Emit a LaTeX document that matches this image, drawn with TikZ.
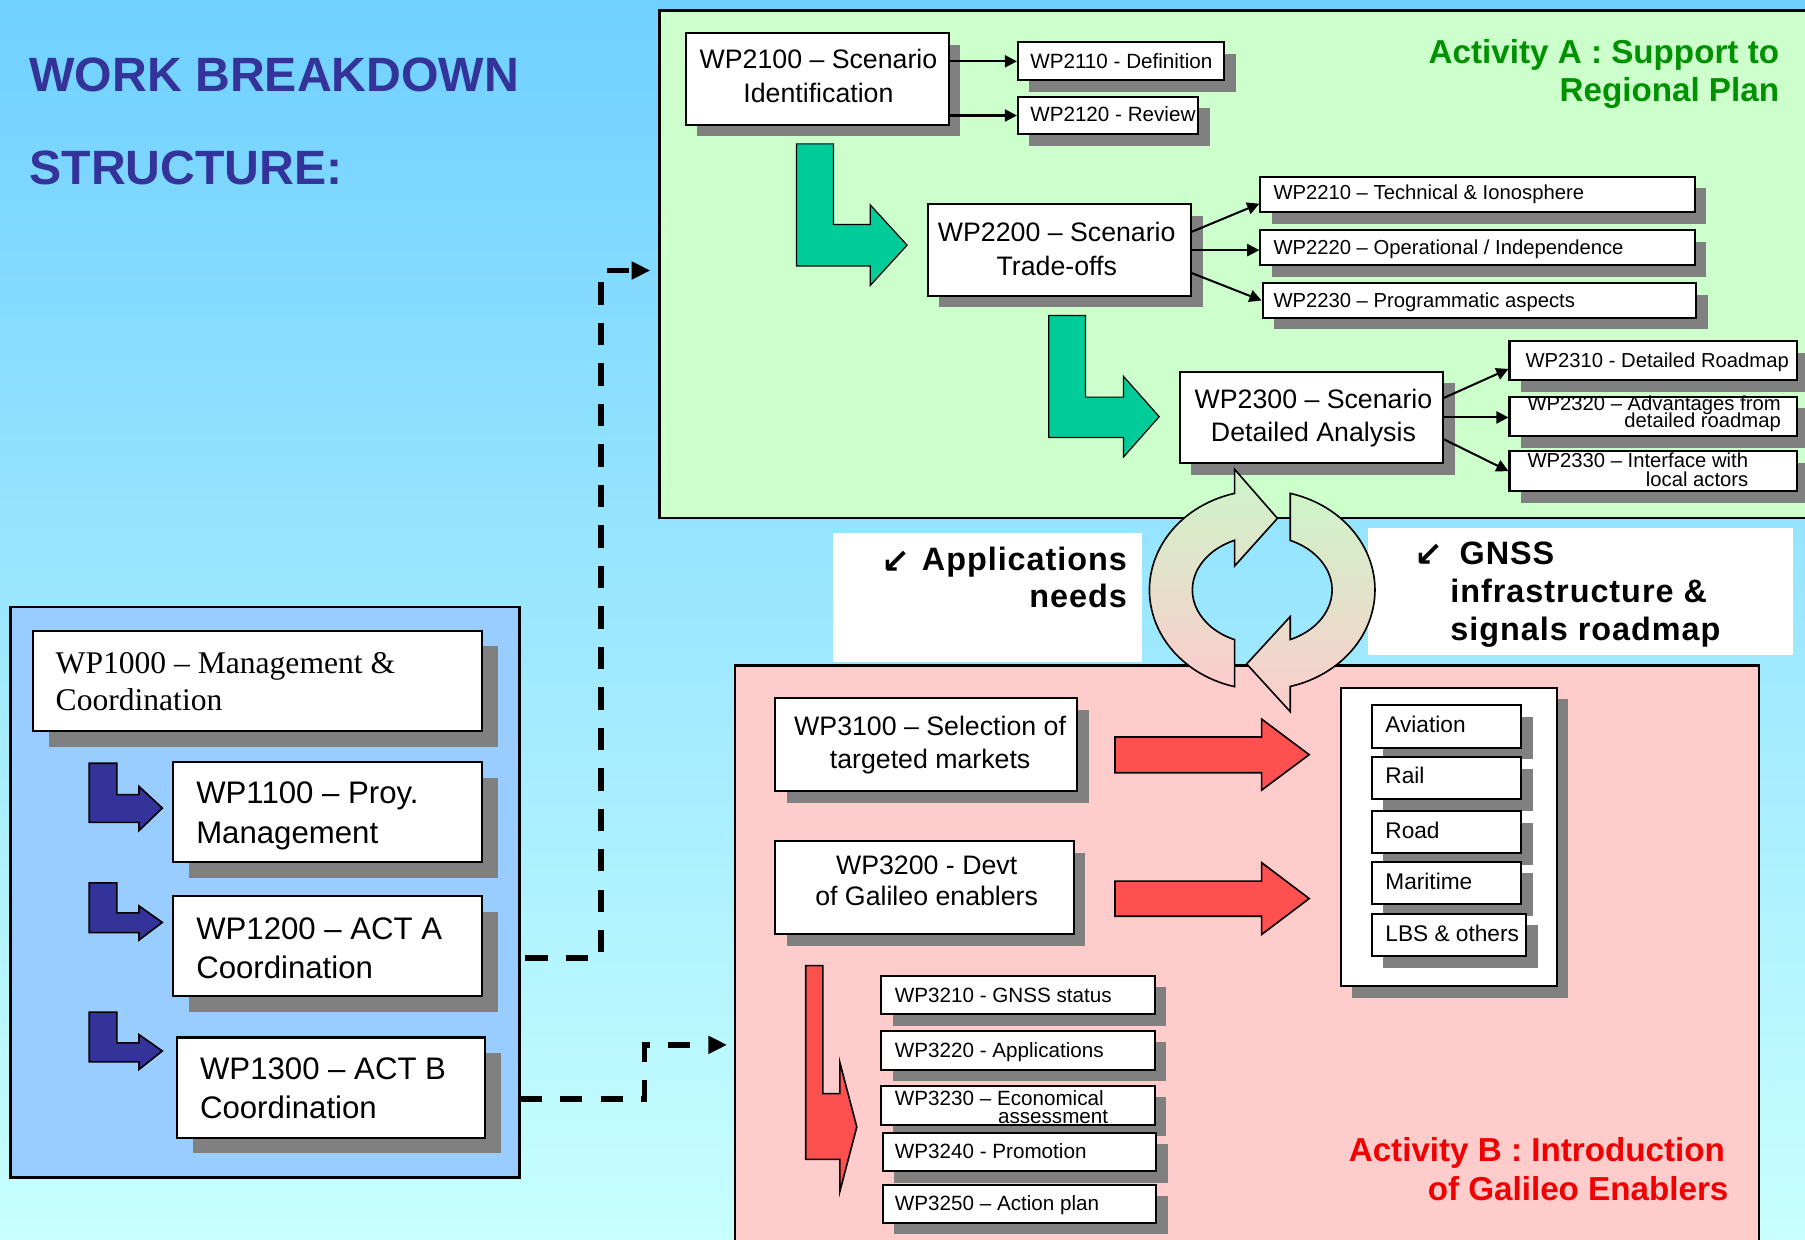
\documentclass[tikz,border=0pt]{standalone}
\usepackage{fontspec}
\setmainfont{Liberation Sans}
\newfontfamily\serifTNR[Ligatures=TeX]{Liberation Serif}
\newfontfamily\symfont{DejaVu Sans}
\newfontfamily\spacedbold[LetterSpace=3]{Liberation Sans}
\usetikzlibrary{arrows.meta,shadows,fit,calc}
\definecolor{bgtop}{RGB}{112,208,255}
\definecolor{bgbot}{RGB}{200,255,255}
\definecolor{panelA}{RGB}{204,255,204}
\definecolor{panelB}{RGB}{255,204,204}
\definecolor{panelL}{RGB}{153,204,255}
\definecolor{shadowgray}{RGB}{128,128,128}
\definecolor{greenarrow}{RGB}{0,204,153}
\definecolor{navy}{RGB}{51,51,153}
\definecolor{redarrow}{RGB}{255,80,80}
\definecolor{actAgreen}{RGB}{0,145,0}
\definecolor{actBred}{RGB}{240,0,0}
\definecolor{cyctop}{RGB}{205,245,200}
\definecolor{cycbot}{RGB}{252,204,204}
\tikzset{
  panelbox/.style={draw=black, line width=0.6pt, inner sep=0pt},
  wpbox/.style={draw=black, line width=0.5pt, fill=white, inner sep=0pt},
  sh/.style={drop shadow={shadow xshift=2.85pt, shadow yshift=-2.85pt, fill=shadowgray, opacity=1}},
  shL/.style={drop shadow={shadow xshift=3.9pt, shadow yshift=-3.9pt, fill=shadowgray, opacity=1}},
  whitebox/.style={fill=white, inner sep=0pt},
  txt/.style={inner sep=0pt, outer sep=0pt},
  fbig/.style={txt, font=\fontsize{6.6}{8}\selectfont},
  fsmall/.style={txt, font=\fontsize{5}{6}\selectfont},
  fmid/.style={txt, font=\fontsize{5.1}{6}\selectfont},
  fmkt/.style={txt, font=\fontsize{5.6}{6.5}\selectfont},
  fleft/.style={txt, font=\fontsize{7.7}{9}\selectfont},
  fserif/.style={txt, font=\serifTNR\fontsize{7.8}{9}\selectfont},
  ftitle/.style={txt, font=\bfseries\fontsize{11.9}{14}\selectfont, text=navy},
  fact/.style={txt, font=\bfseries\fontsize{8.2}{10}\selectfont},
  factB/.style={txt, font=\bfseries\fontsize{8.2}{10}\selectfont},
  fnote/.style={txt, font=\spacedbold\bfseries\fontsize{8}{10}\selectfont},
  fglyph/.style={txt, font=\symfont\bfseries\fontsize{8.5}{9}\selectfont},
  conn/.style={draw=black, line width=0.5pt, -{Triangle[length=3pt,width=3pt]}},
  dconn/.style={draw=black, line width=1.4pt, dash pattern=on 5.5pt off 4.5pt, -{Triangle[length=4.6pt,width=4.2pt]}},
  larrowG/.style={fill=greenarrow, draw=black, line width=0.3pt},
  larrowB/.style={fill=navy},
  blockR/.style={fill=redarrow, draw=black, line width=0.4pt},
  cyc/.style={top color=cyctop, bottom color=cycbot, draw=black, line width=0.4pt},
}
\begin{document}
\begin{tikzpicture}[x=0.01cm,y=-0.01cm]
\useasboundingbox (0,0) rectangle (1568,1077);
\clip (0,0) rectangle (1568,1077);
\shade[top color=bgtop,bottom color=bgbot] (0,0) rectangle (1568,1077);

% ---------- panels
\node[panelbox, fill=panelA, fit={(573,9) (1595,450)}] (apanel) {};
\node[panelbox, fill=panelL, fit={(9.3,527.5) (451.4,1023)}] (lpanel) {};
\node[panelbox, fill=panelB, fit={(638.7,578) (1528,1095)}] (bpanel) {};
\node[whitebox, fit={(724,463.3) (991.7,574.8)}] (appbox) {};
\node[whitebox, fit={(1188.8,458.4) (1558,569)}] (gnssbox) {};

% ---------- title
\node[ftitle, anchor=base west] (title1) at (25.6,79.6) {WORK BREAKDOWN};
\node[ftitle, anchor=base west] (title2) at (25.6,160.7) {STRUCTURE:};

% ---------- Activity A
\node[fact, text=actAgreen, anchor=base east] (actA1) at (1545.5,55.4) {Activity A : Support to};
\node[fact, text=actAgreen, anchor=base east] (actA2) at (1545.5,88.4) {Regional Plan};

\filldraw[larrowG] (692,125) -- (724,125) -- (724,195) -- (756,195) -- (756,178) -- (788,213) -- (756,248) -- (756,231) -- (692,231) -- cycle;
\filldraw[larrowG] (911,274) -- (943,274) -- (943,345) -- (976,345) -- (976,327) -- (1007,362) -- (976,397) -- (976,380) -- (911,380) -- cycle;

\node[wpbox, sh, fit={(595.6,29) (824,108.4)}] (wp2100) {};
\node[wpbox, sh, fit={(884.3,36.8) (1063.3,69.8)}] (wp2110) {};
\node[wpbox, sh, fit={(884.3,83.9) (1041,116.8)}] (wp2120) {};
\node[wpbox, sh, fit={(806,177.6) (1034.6,257)}] (wp2200) {};
\node[wpbox, sh, fit={(1094.9,153.7) (1472.4,184.2)}] (wp2210) {};
\node[wpbox, sh, fit={(1094.9,199.8) (1472.4,230.4)}] (wp2220) {};
\node[wpbox, sh, fit={(1096.8,245.9) (1473.7,276.2)}] (wp2230) {};
\node[wpbox, sh, fit={(1025,323) (1253.5,402.3)}] (wp2300) {};
\node[wpbox, sh, fit={(1311.3,296.6) (1560.7,330.4)}] (wp2310) {};
\node[wpbox, sh, fit={(1311.3,344.5) (1560.7,378.9)}] (wp2320) {};
\node[wpbox, sh, fit={(1311.3,391.8) (1560.7,426.8)}] (wp2330) {};

\node[fbig, anchor=base] (wp2100a) at (711,59.9) {WP2100 -- Scenario};
\node[fbig, anchor=base] (wp2100b) at (711,89.3) {Identification};
\node[fmid, anchor=base west] (wp2110a) at (895,59.3) {WP2110 - Definition};
\node[fmid, anchor=base west] (wp2120a) at (895,105.4) {WP2120 - Review};
\node[fbig, anchor=base] (wp2200a) at (918,209.7) {WP2200 -- Scenario};
\node[fbig, anchor=base] (wp2200b) at (918,239) {Trade-offs};
\node[fsmall, anchor=base west] (wp2210a) at (1106.3,173.7) {WP2210 -- Technical \& Ionosphere};
\node[fsmall, anchor=base west] (wp2220a) at (1106.3,220.7) {WP2220 -- Operational / Independence};
\node[fsmall, anchor=base west] (wp2230a) at (1106.3,267.2) {WP2230 -- Programmatic aspects};
\node[fbig, anchor=base] (wp2300a) at (1141,355) {WP2300 -- Scenario};
\node[fbig, anchor=base] (wp2300b) at (1141,383.4) {Detailed Analysis};
\node[fsmall, anchor=base west] (wp2310a) at (1325.3,319) {WP2310 - Detailed Roadmap};
\node[fsmall, anchor=base west] (wp2320a) at (1327,356.4) {WP2320 -- Advantages from};
\node[fsmall, anchor=base east] (wp2320b) at (1547,371.4) {detailed roadmap};
\node[fsmall, anchor=base west] (wp2330a) at (1327,405.9) {WP2330 -- Interface with};
\node[fsmall, anchor=base east] (wp2330b) at (1518.8,422.4) {local actors};

\draw[conn] (wp2100.east |- wp2110.west) -- (wp2110.west);
\draw[conn] (wp2100.east |- wp2120.west) -- (wp2120.west);
\draw[conn] ($(wp2200.east)+(0,-16)$) -- ($(wp2210.west)+(0,8)$);
\draw[conn] (wp2200.east) -- (wp2200.east -| wp2220.west);
\draw[conn] ($(wp2200.east)+(0,20)$) -- (wp2230.west);
\draw[conn] ($(wp2300.east)+(0,-17)$) -- ($(wp2310.west)+(0,7)$);
\draw[conn] (wp2300.east) -- (wp2300.east -| wp2320.west);
\draw[conn] ($(wp2300.east)+(0,19)$) -- (wp2330.west);

% ---------- notes
\node[fglyph, anchor=base west] (appglyph) at (766,498) {↙};
\node[fnote, anchor=base east] (app1) at (979,495.5) {Applications};
\node[fnote, anchor=base east] (app2) at (979,528) {needs};
\node[fglyph, anchor=base west] (gnssglyph) at (1229,492) {↙};
\node[fnote, anchor=base west] (gnss1) at (1268,490.2) {GNSS};
\node[fnote, anchor=base west] (gnss2) at (1260,523.5) {infrastructure \&};
\node[fnote, anchor=base west] (gnss3) at (1260,556) {signals roadmap};

% ---------- left panel
\filldraw[larrowB] (77.5,663) -- (101.5,663) -- (101.5,690.3) -- (120.8,690.3) -- (120.8,683.2) -- (141,702) -- (120.8,721.5) -- (120.8,714.4) -- (77.5,714.4) -- cycle;
\filldraw[larrowB] (77.5,767) -- (101.5,767) -- (101.5,793) -- (120.8,793) -- (120.8,787) -- (141,801.3) -- (120.8,816.6) -- (120.8,810.2) -- (77.5,810.2) -- cycle;
\filldraw[larrowB] (77.5,879.3) -- (101.5,879.3) -- (101.5,906) -- (120.8,906) -- (120.8,898.8) -- (141,913) -- (120.8,929) -- (120.8,922.5) -- (77.5,922.5) -- cycle;

\node[wpbox, shL, fit={(28.7,547.8) (419,635.3)}] (wp1000) {};
\node[wpbox, shL, fit={(150.7,662.3) (419,748.8)}] (wp1100) {};
\node[wpbox, shL, fit={(150.7,778.6) (419,865.2)}] (wp1200) {};
\node[wpbox, shL, fit={(153.7,901.3) (421.5,988.2)}] (wp1300) {};

\node[fserif, anchor=base west] (wp1000a) at (48.4,585) {WP1000 -- Management \&};
\node[fserif, anchor=base west] (wp1000b) at (48.4,617.6) {Coordination};
\node[fleft, anchor=base west] (wp1100a) at (170.5,698.4) {WP1100 -- Proy.};
\node[fleft, anchor=base west] (wp1100b) at (170.5,733) {Management};
\node[fleft, anchor=base west] (wp1200a) at (170.5,816.2) {WP1200 -- ACT A};
\node[fleft, anchor=base west] (wp1200b) at (170.5,850) {Coordination};
\node[fleft, anchor=base west] (wp1300a) at (173.8,937.8) {WP1300 -- ACT B};
\node[fleft, anchor=base west] (wp1300b) at (173.8,971.5) {Coordination};

% ---------- Activity B
\node[wpbox, sh, fit={(673.5,606.4) (936,687.4)}] (wp3100) {};
\node[wpbox, sh, fit={(673.5,731) (932.6,811.8)}] (wp3200) {};
\node[wpbox, sh, fit={(1164.5,597.4) (1352.2,856.8)}] (markets) {};
\node[wpbox, sh, fit={(1191.6,612.5) (1321.4,649.5)}] (aviation) {};
\node[wpbox, sh, fit={(1191.6,657.6) (1321.4,694.2)}] (rail) {};
\node[wpbox, sh, fit={(1191.6,704.5) (1321.4,741)}] (road) {};
\node[wpbox, sh, fit={(1191.6,748.8) (1321.4,785.7)}] (maritime) {};
\node[wpbox, sh, fit={(1191.6,793.8) (1325.6,830.5)}] (lbs) {};
\node[wpbox, sh, fit={(765.5,847.5) (1003.3,881.2)}] (wp3210) {};
\node[wpbox, sh, fit={(765.5,895.6) (1003.3,929.4)}] (wp3220) {};
\node[wpbox, sh, fit={(765.5,943) (1003.3,977)}] (wp3230) {};
\node[wpbox, sh, fit={(766.8,984) (1004.5,1017.5)}] (wp3240) {};
\node[wpbox, sh, fit={(766.8,1029) (1004.5,1062.4)}] (wp3250) {};

\filldraw[blockR] (968.6,640.2) -- (1096,640.2) -- (1096,624.7) -- (1137.3,655.6) -- (1096,686.4) -- (1096,671.3) -- (968.6,671.3) -- cycle;
\filldraw[blockR] (968.6,765.5) -- (1096,765.5) -- (1096,749.4) -- (1137.3,780.6) -- (1096,811.8) -- (1096,796) -- (968.6,796) -- cycle;
\filldraw[blockR] (700,838.8) -- (714.8,838.8) -- (714.8,950) -- (729.6,950) -- (729.6,923) -- (744.3,979) -- (729.6,1035) -- (729.6,1007.2) -- (700,1007.2) -- cycle;

\node[fbig, anchor=base] (wp3100a) at (808,639.2) {WP3100 -- Selection of};
\node[fbig, anchor=base] (wp3100b) at (808,667.5) {targeted markets};
\node[fbig, anchor=base] (wp3200a) at (805,759.7) {WP3200 - Devt};
\node[fbig, anchor=base] (wp3200b) at (805,787) {of Galileo enablers};
\node[fmkt, anchor=base west] (aviationt) at (1203.5,636) {Aviation};
\node[fmkt, anchor=base west] (railt) at (1203.5,681) {Rail};
\node[fmkt, anchor=base west] (roadt) at (1203.5,728.2) {Road};
\node[fmkt, anchor=base west] (maritimet) at (1203.5,772.6) {Maritime};
\node[fmkt, anchor=base west] (lbst) at (1203.5,817.6) {LBS \& others};
\node[fmid, anchor=base west] (wp3210a) at (777.4,870.6) {WP3210 - GNSS status};
\node[fmid, anchor=base west] (wp3220a) at (777.4,918.8) {WP3220 - Applications};
\node[fmid, anchor=base west] (wp3230a) at (777.4,960) {WP3230 -- Economical};
\node[fmid, anchor=base west] (wp3230b) at (867,976) {assessment};
\node[fmid, anchor=base west] (wp3240a) at (777.4,1006.5) {WP3240 - Promotion};
\node[fmid, anchor=base west] (wp3250a) at (777.4,1051.5) {WP3250 -- Action plan};

\node[factB, text=actBred, anchor=base east] (actB1) at (1498.5,1008.8) {Activity B : Introduction};
\node[factB, text=actBred, anchor=base east] (actB2) at (1501.5,1042.5) {of Galileo Enablers};

% ---------- dashed connectors
\coordinate (c1) at (522,235);
\coordinate (c2) at (560,907.7);
\draw[dconn] ($(wp1200.east)+(36.6,10.3)$) -| (c1) -- ($(apanel.west |- c1)+(-7,0)$);
\draw[dconn] ($(wp1300.east)+(29.1,9.8)$) -| (c2) -- ($(bpanel.west |- c2)+(-6,0)$);

% ---------- cycle arrows
\shadedraw[cyc] (1072.5,428.6) arc[start angle=255.8, end angle=104.2, x radius=98, y radius=86.6] -- (1072.5,555.7) arc[start angle=113.3, end angle=246.7, x radius=60.7, y radius=47] -- (1072.5,491.7) -- (1109.7,450.3) -- (1072.5,407.7) -- cycle;
\shadedraw[cyc] (1120.8,428.6) arc[start angle=-75.6, end angle=75.6, x radius=98, y radius=86.6] -- (1120.8,618.2) -- (1083,576.8) -- (1120.8,535.7) -- (1120.8,555.6) arc[start angle=66.4, end angle=-66.4, x radius=60.7, y radius=47] -- cycle;
\end{tikzpicture}
\end{document}
